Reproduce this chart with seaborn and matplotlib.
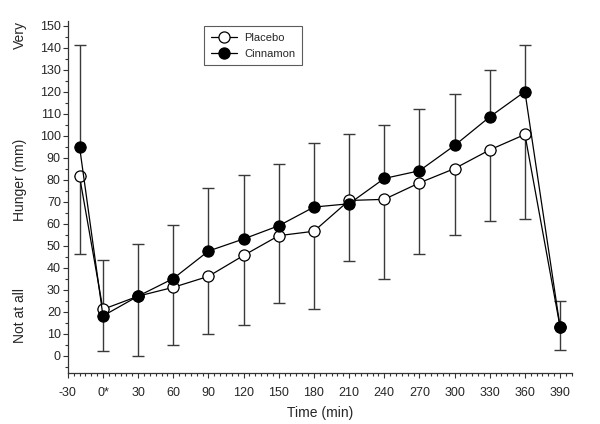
import numpy as np
import pandas as pd
import matplotlib
matplotlib.use("Agg")
import matplotlib.pyplot as plt
import seaborn as sns
from matplotlib.ticker import MultipleLocator

# data
times = [-20, 0, 30, 60, 90, 120, 150, 180, 210, 240, 270, 300, 330, 360, 390]
placebo = [81.5, 21, 27, 31, 36, 45.5, 54.5, 56.5, 70.5, 71, 78.5, 85, 93.5, 100.5, 13]
cinnamon = [95, 18, 27, 35, 47.5, 53, 59, 67.5, 69, 80.5, 84, 95.5, 108.5, 120, 13]
placebo_low = [46, 2, 0, 5, 10, 14, 24, 21, 43, 35, 46, 55, 61, 62, 2.5]
cinnamon_high = [141, 43.5, 50.5, 59.5, 76, 82, 87, 96.5, 100.5, 105, 112, 119, 130, 141, 25]
xtick_vals = list(range(-30, 391, 30))
xtick_labels = ['-30', '0*'] + [str(v) for v in range(30, 391, 30)]

sns.set_style("ticks")
plt.rcParams['font.family'] = ['Liberation Sans', 'DejaVu Sans']

df = pd.DataFrame({'time': times, 'placebo': placebo, 'cinnamon': cinnamon})

fig = plt.figure(figsize=(6, 4.24), dpi=100)
ax = fig.add_axes([0.113, 0.12, 0.84, 0.83])

# error bars: placebo downward, cinnamon upward
p = np.array(placebo)
c = np.array(cinnamon)
ax.errorbar(times, p, yerr=[p - np.array(placebo_low), np.zeros_like(p)],
            fmt='none', ecolor='#3a3a3a', elinewidth=1, capsize=4, capthick=1, zorder=1)
ax.errorbar(times, c, yerr=[np.zeros_like(c), np.array(cinnamon_high) - c],
            fmt='none', ecolor='#3a3a3a', elinewidth=1, capsize=4, capthick=1, zorder=1)

sns.lineplot(data=df, x='time', y='placebo', ax=ax, color='black', linewidth=0.9,
             marker='o', markersize=8, markerfacecolor='white', markeredgecolor='black',
             markeredgewidth=0.9, label='Placebo', zorder=3)
sns.lineplot(data=df, x='time', y='cinnamon', ax=ax, color='black', linewidth=0.9,
             marker='o', markersize=8, markerfacecolor='black', markeredgecolor='black',
             markeredgewidth=0.9, label='Cinnamon', zorder=4)

ax.set_xlim(-30, 400)
ax.set_ylim(-8, 152)
ax.set_xticks(xtick_vals)
ax.set_xticklabels(xtick_labels)
ax.xaxis.set_minor_locator(MultipleLocator(5))
ax.set_yticks(range(0, 151, 10))
ax.yaxis.set_minor_locator(MultipleLocator(5))
ax.tick_params(axis='both', which='major', labelsize=9, length=3.5, width=0.8, color='#333333')
ax.tick_params(axis='x', which='major', pad=6.5)
ax.tick_params(axis='y', which='major', pad=1.5)
ax.tick_params(axis='both', which='minor', length=2.5, width=0.8, color='#333333')
for s in ['top', 'right']:
    ax.spines[s].set_visible(False)
for s in ['left', 'bottom']:
    ax.spines[s].set_linewidth(0.9)
    ax.spines[s].set_color('#333333')

ax.set_xlabel('Time (min)', fontsize=10, labelpad=5)
ax.set_ylabel('')
fig.text(0.033, 0.917, 'Very', rotation=90, fontsize=10, ha='center', va='center')
fig.text(0.033, 0.575, 'Hunger (mm)', rotation=90, fontsize=10, ha='center', va='center')
fig.text(0.033, 0.257, 'Not at all', rotation=90, fontsize=10, ha='center', va='center')

leg = ax.legend(loc='upper left', bbox_to_anchor=(0.27, 0.985), fontsize=8, frameon=True,
                fancybox=False, edgecolor='#333333', handlelength=2.4, borderpad=0.6,
                labelspacing=0.5, handletextpad=0.6, borderaxespad=0)
leg.get_frame().set_linewidth(0.8)

fig.savefig('out.png', dpi=100)
